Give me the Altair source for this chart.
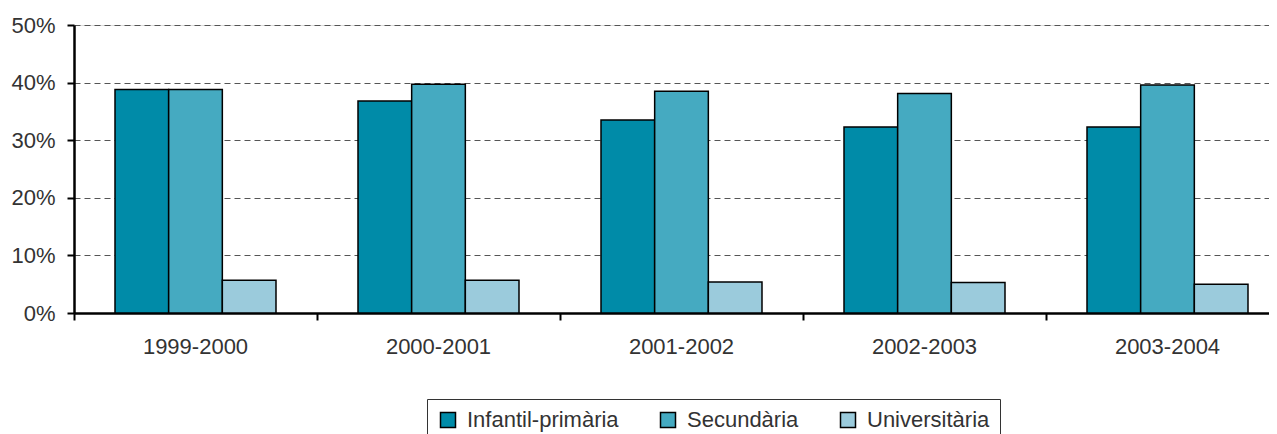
import altair as alt
import pandas as pd

years = ["1999-2000", "2000-2001", "2001-2002", "2002-2003", "2003-2004"]
series = ["Infantil-primària", "Secundària", "Universitària"]
infantil = [38.8, 36.8, 33.5, 32.3, 32.3]
secundaria = [38.8, 39.7, 38.5, 38.1, 39.6]
universitaria = [5.7, 5.7, 5.4, 5.3, 5.0]
colors = ["#008BA8", "#45AAC1", "#9BCBDC"]

rows = []
for name, vals in zip(series, [infantil, secundaria, universitaria]):
    for y, v in zip(years, vals):
        rows.append({"curs": y, "nivell": name, "valor": v})
df = pd.DataFrame(rows)

FONT = "Liberation Sans"

chart = alt.Chart(df).mark_bar(stroke="black", strokeWidth=1.5).encode(
    x=alt.X("curs:N", sort=years,
            scale=alt.Scale(range=[0, 1215], paddingInner=0, paddingOuter=0),
            axis=alt.Axis(title=None, bandPosition=0, labelAngle=0,
                          tickSize=7, tickWidth=2, tickColor="black",
                          domainColor="black", domainWidth=2.5,
                          labelFontSize=22, labelColor="#333", labelPadding=16,
                          labelFont=FONT, grid=False)),
    xOffset=alt.XOffset("nivell:N", sort=series,
                        scale=alt.Scale(paddingInner=0, paddingOuter=0.764)),
    y=alt.Y("valor:Q", scale=alt.Scale(domain=[0, 50], nice=False),
            axis=alt.Axis(title=None, values=[0, 10, 20, 30, 40, 50],
                          labelExpr="datum.value + '%'",
                          grid=True, gridDash=[6, 4], gridColor="#555", gridWidth=1,
                          domainColor="black", domainWidth=2.5,
                          tickColor="black", tickWidth=2, tickSize=7,
                          labelFontSize=22, labelColor="#333", labelPadding=12,
                          labelFont=FONT)),
    color=alt.Color("nivell:N", sort=series,
                    scale=alt.Scale(domain=series, range=colors),
                    legend=alt.Legend(orient="none", legendX=353, legendY=374,
                                      direction="horizontal", title=None,
                                      strokeColor="#333", padding=10,
                                      symbolType="square", symbolSize=225,
                                      symbolStrokeColor="black", symbolStrokeWidth=1.5,
                                      labelFontSize=22, labelColor="#333",
                                      labelFont=FONT, labelOffset=8,
                                      columnPadding=38)),
).properties(
    width=1195, height=288,
    autosize=alt.AutoSizeParams(type="none"),
    padding={"left": 66, "top": 17, "right": 0, "bottom": 121},
).configure_view(stroke=None).configure(font=FONT)

chart.save("out.html", embed_options={"renderer": "svg", "actions": False})
